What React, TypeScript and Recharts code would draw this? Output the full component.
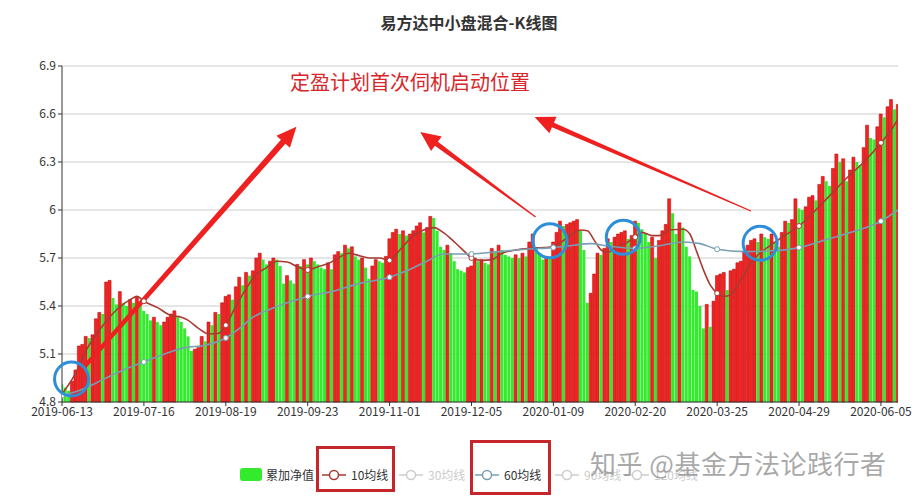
import React from "react";
import {
  ComposedChart,
  Bar,
  Line,
  XAxis,
  YAxis,
  CartesianGrid,
  Cell,
  ReferenceDot,
  ReferenceLine,
} from "recharts";

// 累加净值, one per trading day (246 days, 2019-06-13 .. 2020-06-09)
const netValues = [
  4.91, 4.89, 4.87, 4.93, 5.0, 5.15, 5.16, 5.21, 5.2, 5.22, 5.32, 5.36,
  5.35, 5.55, 5.56, 5.45, 5.41, 5.49, 5.42, 5.4, 5.44, 5.42, 5.46, 5.41,
  5.37, 5.35, 5.31, 5.33, 5.3, 5.28, 5.3, 5.33, 5.35, 5.37, 5.33, 5.3,
  5.26, 5.21, 5.12, 5.13, 5.14, 5.21, 5.18, 5.3, 5.28, 5.36, 5.35, 5.42,
  5.46, 5.47, 5.44, 5.52, 5.58, 5.53, 5.61, 5.59, 5.62, 5.7, 5.73, 5.69,
  5.66, 5.68, 5.7, 5.69, 5.65, 5.54, 5.59, 5.56, 5.54, 5.66, 5.65, 5.69,
  5.66, 5.7, 5.68, 5.66, 5.64, 5.63, 5.67, 5.63, 5.72, 5.74, 5.73, 5.78,
  5.76, 5.77, 5.71, 5.69, 5.7, 5.64, 5.57, 5.65, 5.69, 5.68, 5.67, 5.71,
  5.82, 5.86, 5.88, 5.85, 5.87, 5.84, 5.85, 5.87, 5.9, 5.92, 5.86, 5.89,
  5.96, 5.95, 5.87, 5.77, 5.75, 5.78, 5.73, 5.68, 5.63, 5.62, 5.61, 5.64,
  5.65, 5.7, 5.68, 5.69, 5.67, 5.66, 5.76, 5.74, 5.78, 5.75, 5.72, 5.71,
  5.7, 5.72, 5.7, 5.73, 5.71, 5.8, 5.85, 5.76, 5.72, 5.69, 5.71, 5.7,
  5.8, 5.86, 5.93, 5.9, 5.91, 5.92, 5.93, 5.94, 5.87, 5.75, 5.42, 5.48,
  5.6, 5.73, 5.72, 5.76, 5.82, 5.8, 5.83, 5.85, 5.86, 5.87, 5.82, 5.84,
  5.93, 5.92, 5.88, 5.85, 5.8, 5.83, 5.7, 5.81, 5.87, 5.91, 6.07, 5.98,
  5.85, 5.92, 5.89, 5.77, 5.71, 5.5, 5.49, 5.4, 5.26, 5.41, 5.27, 5.43,
  5.59, 5.6, 5.61, 5.5, 5.62, 5.63, 5.67, 5.68, 5.74, 5.78, 5.81, 5.82,
  5.8, 5.85, 5.83, 5.82, 5.85, 5.8, 5.77, 5.86, 5.93, 5.92, 5.94, 6.07,
  6.01, 6.0, 6.02, 6.08, 6.09, 6.06, 6.16, 6.21, 6.18, 6.15, 6.26, 6.35,
  6.3, 6.32, 6.18, 6.25, 6.33, 6.3, 6.28, 6.39, 6.53, 6.45, 6.44, 6.52,
  6.6, 6.58, 6.645, 6.69, 6.63, 6.66,
];

const tickIndex = [0, 24, 48, 72, 96, 120, 144, 168, 192, 216, 240];
const tickLabels = [
  "2019-06-13", "2019-07-16", "2019-08-19", "2019-09-23", "2019-11-01",
  "2019-12-05", "2020-01-09", "2020-02-20", "2020-03-25", "2020-04-29",
  "2020-06-05",
];
const yTicks = [4.8, 5.1, 5.4, 5.7, 6.0, 6.3, 6.6, 6.9];

// moving averages read at [day index, value]
const ma10Points: [number, number][] = [
  [0, 4.85], [4, 4.98], [7, 5.12], [11, 5.25], [15, 5.355], [20, 5.44],
  [22, 5.46], [24, 5.43], [28, 5.39], [32, 5.34], [35, 5.33], [37, 5.31],
  [40, 5.26], [43, 5.225], [46, 5.23], [48, 5.28], [51, 5.4], [54, 5.51],
  [57, 5.6], [60, 5.64], [63, 5.68], [66, 5.675], [69, 5.645], [72, 5.625],
  [75, 5.645], [78, 5.665], [81, 5.7], [84, 5.73], [87, 5.715], [90, 5.7],
  [93, 5.7], [96, 5.685], [99, 5.75], [103, 5.84], [106, 5.875], [109, 5.89],
  [112, 5.855], [115, 5.8], [118, 5.74], [120, 5.7], [123, 5.685], [126, 5.69],
  [129, 5.73], [133, 5.75], [137, 5.76], [141, 5.765], [144, 5.77], [146, 5.795],
  [149, 5.84], [152, 5.875], [154, 5.87], [156, 5.81], [158, 5.75], [160, 5.735],
  [162, 5.76], [165, 5.79], [168, 5.83], [170, 5.86], [173, 5.84], [175, 5.84],
  [178, 5.875], [182, 5.88], [184, 5.85], [186, 5.74], [188, 5.625], [190, 5.53],
  [192, 5.48], [194, 5.46], [196, 5.47], [198, 5.53], [200, 5.6], [202, 5.67],
  [204, 5.72], [207, 5.77], [211, 5.83], [216, 5.9], [220, 5.98], [225, 6.09],
  [230, 6.2], [235, 6.3], [240, 6.42], [243, 6.5], [245, 6.57],
];
const ma60Points: [number, number][] = [
  [0, 4.84], [6, 4.88], [12, 4.94], [18, 5.0], [24, 5.05], [30, 5.1],
  [36, 5.14], [42, 5.155], [48, 5.2], [52, 5.26], [56, 5.33], [61, 5.38],
  [66, 5.42], [72, 5.46], [79, 5.49], [87, 5.54], [96, 5.58], [101, 5.62],
  [106, 5.67], [112, 5.725], [120, 5.725], [128, 5.74], [136, 5.755], [144, 5.765],
  [150, 5.78], [155, 5.79], [160, 5.775], [168, 5.76], [176, 5.78], [182, 5.8],
  [187, 5.79], [192, 5.755], [200, 5.74], [208, 5.745], [216, 5.765], [224, 5.815],
  [232, 5.865], [240, 5.93], [245, 6.0],
];

// hand drawn marks on the screenshot, in chart coordinates
const circleMarks: [number, number][] = [
  [2.8, 4.944], [143, 5.808], [164.5, 5.829], [204.6, 5.792],
];
const arrowMarks = [
  { from: [5.3, 4.99], to: [68.7, 6.52], tail: 4, neck: 6 },
  { from: [138.8, 5.956], to: [105, 6.488], tail: 1.2, neck: 5 },
  { from: [201.9, 5.994], to: [138.5, 6.581], tail: 1.2, neck: 5 },
];

const RED = "#fa2020";
const RED_EDGE = "#b01616";
const GREEN = "#33ea2c";
const MA10_COLOR = "#a93a32";
const MA60_COLOR = "#789fb3";
const MARK_RED = "#ee2020";
const MARK_BLUE = "#2f8ed8";

const ma10Map = new Map(ma10Points);
const ma60Map = new Map(ma60Points);
const rows = netValues.map((v, i) => ({
  i,
  v,
  ma10: ma10Map.has(i) ? ma10Map.get(i) : null,
  ma60: ma60Map.has(i) ? ma60Map.get(i) : null,
}));

const tickDot = (color: string) => (p: any) => {
  if (p.value == null || p.cy == null || p.payload.i % 24 !== 0)
    return <g key={`d${p.index}`} />;
  return (
    <circle key={`d${p.index}`} cx={p.cx} cy={p.cy} r={2.5} fill="#fff" stroke={color} strokeWidth={1} />
  );
};

const arrowShape = (tail: number, neck: number) => (p: any) => {
  const { x1, y1, x2, y2 } = p;
  const dx = x2 - x1;
  const dy = y2 - y1;
  const len = Math.sqrt(dx * dx + dy * dy) || 1;
  const ux = dx / len;
  const uy = dy / len;
  const nx = -uy;
  const ny = ux;
  const headL = 20;
  const headW = 9;
  const bx = x2 - ux * headL;
  const by = y2 - uy * headL;
  const pts = [
    [x1 + nx * tail / 2, y1 + ny * tail / 2],
    [bx + nx * neck / 2, by + ny * neck / 2],
    [bx + nx * headW, by + ny * headW],
    [x2, y2],
    [bx - nx * headW, by - ny * headW],
    [bx - nx * neck / 2, by - ny * neck / 2],
    [x1 - nx * tail / 2, y1 - ny * tail / 2],
  ];
  return <polygon points={pts.map((q) => q.join(",")).join(" ")} fill={MARK_RED} />;
};

function LegendLine({ color }: { color: string }) {
  return (
    <svg width={24} height={12} style={{ marginRight: 5 }}>
      <line x1={0} y1={6} x2={24} y2={6} stroke={color} strokeWidth={1.5} />
      <circle cx={12} cy={6} r={4.5} fill="#fff" stroke={color} strokeWidth={1.5} />
    </svg>
  );
}

const legendItems = [
  { label: "10均线", color: MA10_COLOR, on: true, left: 322 },
  { label: "30均线", color: "#cccccc", on: false, left: 399 },
  { label: "60均线", color: MA60_COLOR, on: true, left: 475 },
  { label: "90均线", color: "#cccccc", on: false, left: 555 },
  { label: "120均线", color: "#cccccc", on: false, left: 625 },
];

export default function App() {
  const font = '"Noto Sans CJK SC", "Microsoft YaHei", sans-serif';
  return (
    <div
      style={{
        position: "absolute",
        left: 0,
        top: 0,
        width: 917,
        height: 500,
        background: "#fff",
        fontFamily: font,
        overflow: "hidden",
      }}
    >
      <div
        style={{
          position: "absolute",
          left: 0,
          width: 938,
          top: 10,
          textAlign: "center",
          fontSize: 16,
          fontWeight: "bold",
          color: "#333",
        }}
      >
        易方达中小盘混合-K线图
      </div>

      <ComposedChart
        width={917}
        height={500}
        data={rows}
        margin={{ top: 66, right: 19, bottom: 68, left: 12 }}
      >
        <CartesianGrid vertical={false} stroke="#cccccc" />
        <XAxis
          type="number"
          dataKey="i"
          domain={[0, 245]}
          ticks={tickIndex}
          interval={0}
          allowDataOverflow
          tickFormatter={(i: number) => tickLabels[tickIndex.indexOf(i)] ?? ""}
          height={30}
          tickSize={4}
          tickMargin={1}
          axisLine={{ stroke: "#333" }}
          tickLine={{ stroke: "#333" }}
          tick={{ fill: "#333", fontSize: 12 }}
        />
        <YAxis
          type="number"
          domain={[4.8, 6.9]}
          ticks={yTicks}
          interval={0}
          width={50}
          tickSize={4}
          tickMargin={2}
          tickFormatter={(v: number) => String(parseFloat(v.toFixed(1)))}
          axisLine={{ stroke: "#333" }}
          tickLine={{ stroke: "#333" }}
          tick={{ fill: "#333", fontSize: 12 }}
        />
        <Bar dataKey="v" barSize={3} isAnimationActive={false}>
          {rows.map((r, i) => {
            const up = i > 0 && r.v >= netValues[i - 1];
            return (
              <Cell
                key={i}
                fill={up ? RED : GREEN}
                stroke={up ? RED_EDGE : "none"}
                strokeWidth={up ? 0.6 : 0}
              />
            );
          })}
        </Bar>
        <Line
          dataKey="ma10"
          type="monotone"
          connectNulls
          stroke={MA10_COLOR}
          strokeWidth={1.6}
          dot={tickDot(MA10_COLOR)}
          activeDot={false}
          isAnimationActive={false}
        />
        <Line
          dataKey="ma60"
          type="monotone"
          connectNulls
          stroke={MA60_COLOR}
          strokeWidth={1.6}
          dot={tickDot(MA60_COLOR)}
          activeDot={false}
          isAnimationActive={false}
        />
        {circleMarks.map(([x, y], k) => (
          <ReferenceDot
            key={`c${k}`}
            x={x}
            y={y}
            r={17}
            fill="none"
            stroke={MARK_BLUE}
            strokeWidth={3}
            ifOverflow="visible"
          />
        ))}
        {arrowMarks.map((a, k) => (
          <ReferenceLine
            key={`a${k}`}
            segment={[
              { x: a.from[0], y: a.from[1] },
              { x: a.to[0], y: a.to[1] },
            ]}
            ifOverflow="visible"
            shape={arrowShape(a.tail, a.neck)}
          />
        ))}
      </ComposedChart>

      <div
        style={{
          position: "absolute",
          left: 290,
          top: 67,
          fontSize: 20,
          color: "#d8262a",
          whiteSpace: "nowrap",
        }}
      >
        定盈计划首次伺机启动位置
      </div>

      {/* legend */}
      <div
        style={{
          position: "absolute",
          left: 240,
          top: 468,
          width: 22,
          height: 13,
          borderRadius: 3,
          background: GREEN,
        }}
      />
      <div style={{ position: "absolute", left: 266, top: 466, fontSize: 12, color: "#333" }}>
        累加净值
      </div>
      {legendItems.map((it) => (
        <div
          key={it.label}
          style={{
            position: "absolute",
            left: it.left,
            top: 466,
            display: "flex",
            alignItems: "center",
            fontSize: 12,
            color: it.on ? "#333" : "#cccccc",
            whiteSpace: "nowrap",
          }}
        >
          <LegendLine color={it.color} />
          {it.label}
        </div>
      ))}
      <div
        style={{
          position: "absolute",
          left: 316,
          top: 446,
          width: 79,
          height: 46,
          border: "3px solid #c4262b",
          boxSizing: "border-box",
        }}
      />
      <div
        style={{
          position: "absolute",
          left: 470,
          top: 440,
          width: 81,
          height: 55,
          border: "3px solid #c4262b",
          boxSizing: "border-box",
        }}
      />
      <div
        style={{
          position: "absolute",
          left: 590,
          top: 444,
          fontSize: 26,
          color: "rgba(140,140,140,0.75)",
          whiteSpace: "nowrap",
          letterSpacing: 0.5,
        }}
      >
        知乎 @基金方法论践行者
      </div>
    </div>
  );
}
